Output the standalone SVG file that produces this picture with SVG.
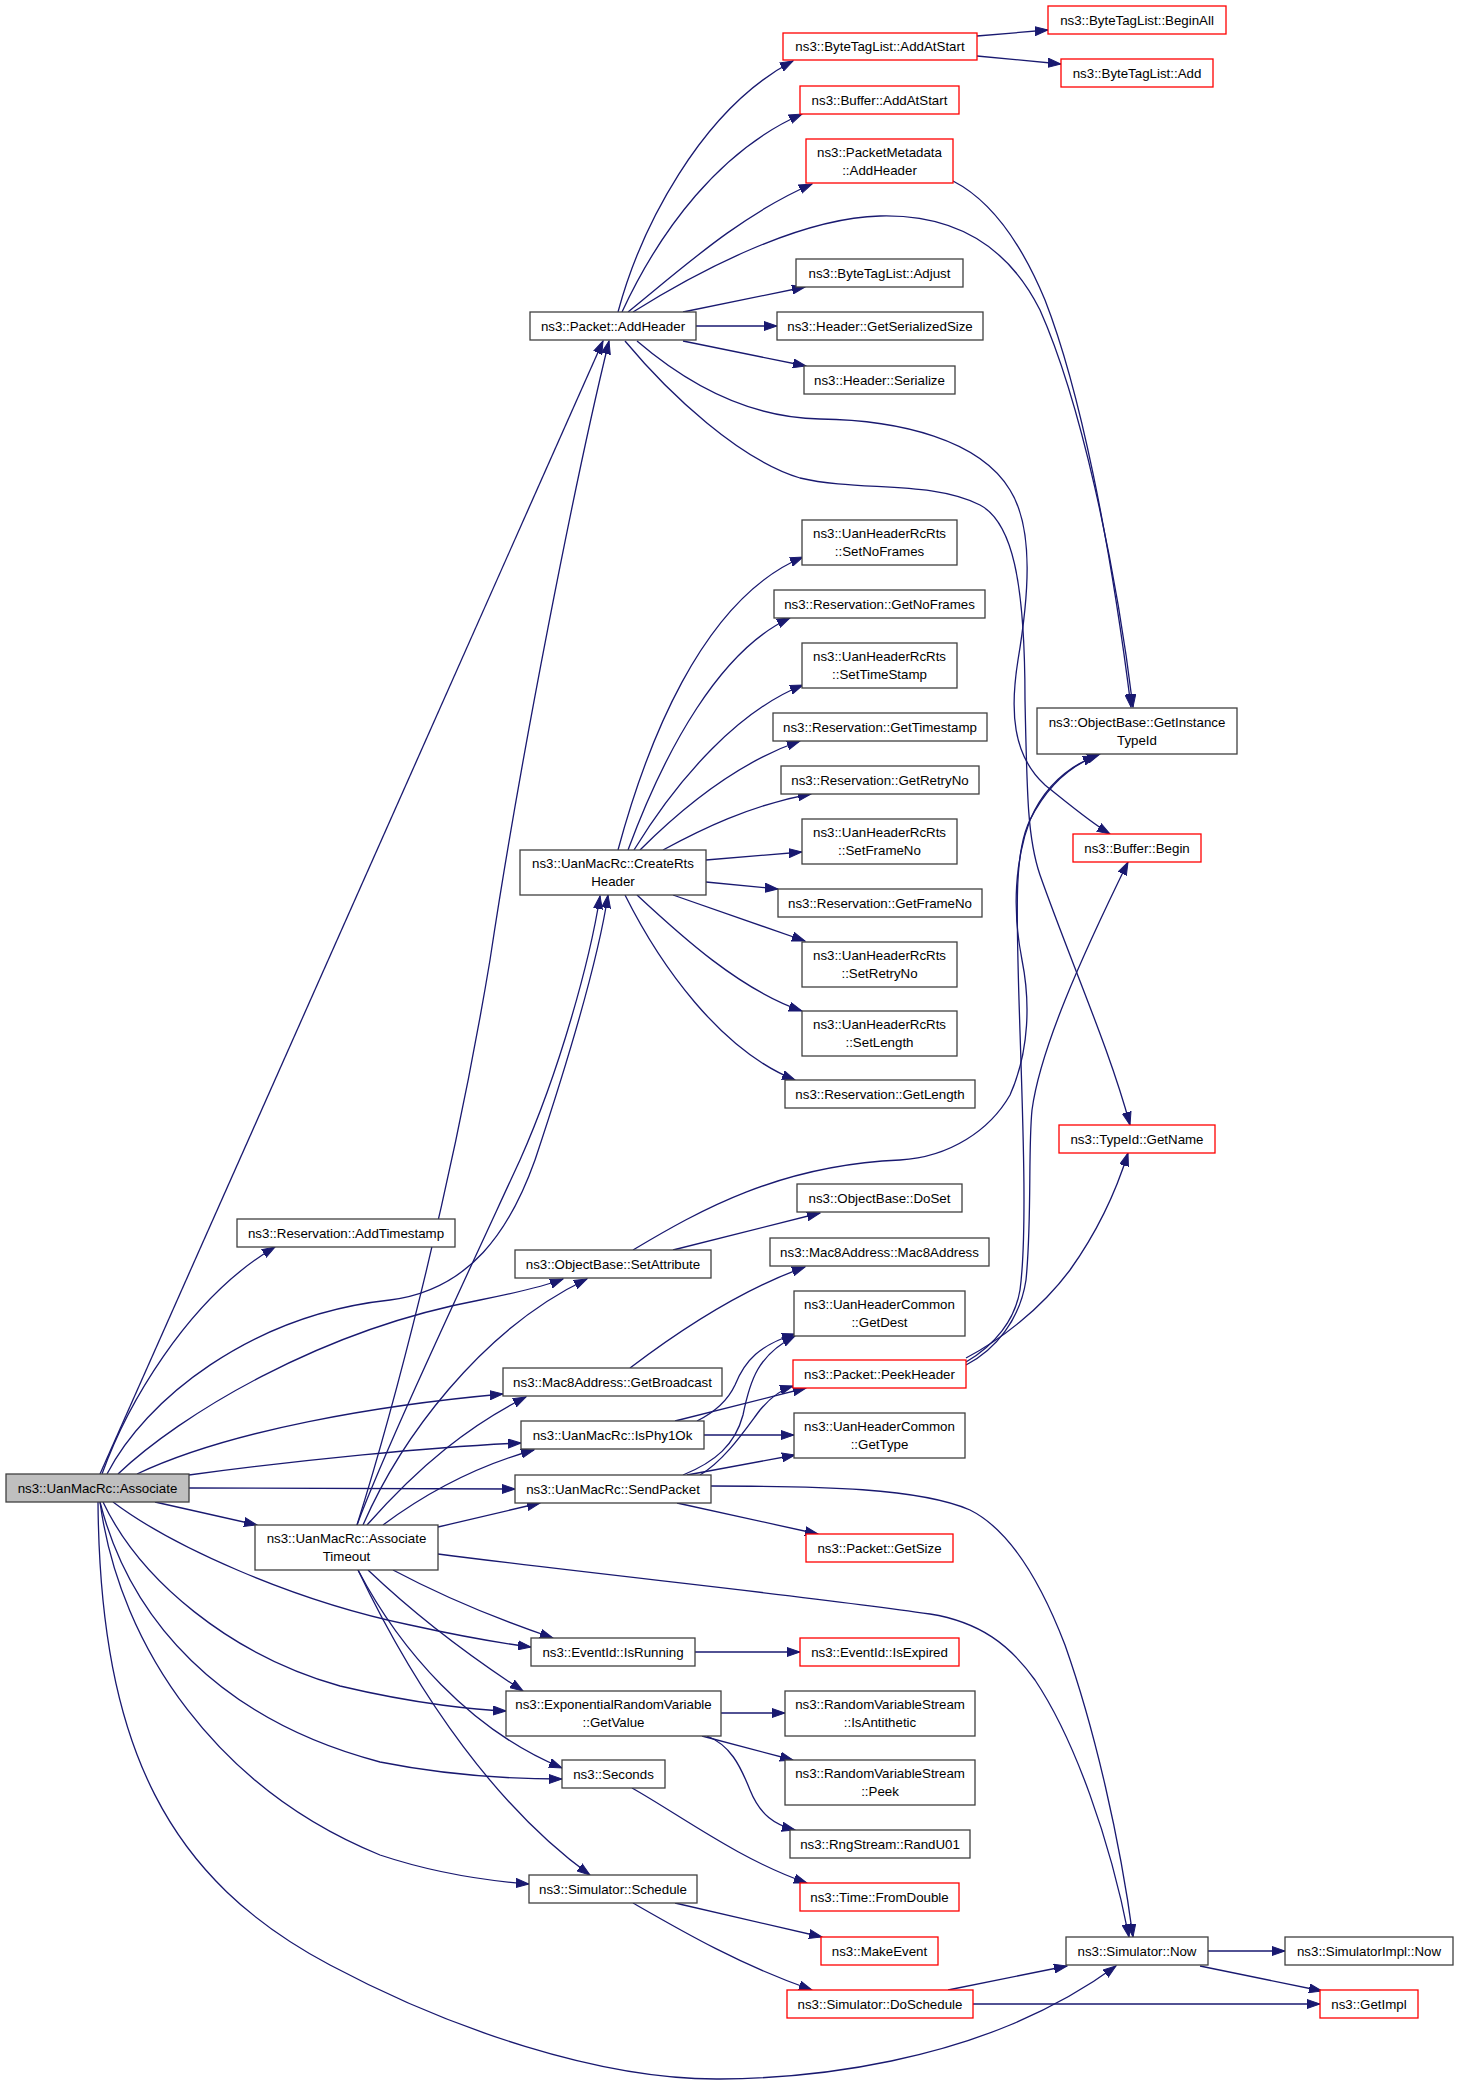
<svg xmlns="http://www.w3.org/2000/svg" width="1459" height="2085" viewBox="0 0 1459 2085">
<defs>
<marker id="ah" markerWidth="14" markerHeight="10" refX="13" refY="5" orient="auto" markerUnits="userSpaceOnUse">
<path d="M0,0.5 L13,5 L0,9.5 z" fill="#191970" stroke="#191970" stroke-width="1"/>
</marker>
</defs>
<style>
.n rect{fill:#ffffff;stroke:#404040;stroke-width:1.3}
.n.r rect{stroke:#ff0000}
.n.g rect{fill:#bfbfbf}
.n text{font-family:"Liberation Sans",Arial,Helvetica,sans-serif;font-size:13.3px;text-anchor:middle;fill:#000000}
#edges path{fill:none;stroke:#191970;stroke-width:1.3;marker-end:url(#ah)}
</style>
<rect x="0" y="0" width="1459" height="2085" fill="#ffffff"/>
<g id="edges">
<path d="M977,36 L1048,30"/>
<path d="M977,56 L1061,64"/>
<path d="M618,312 C640,230 700,110 793,61"/>
<path d="M622,312 C660,230 720,150 802,114"/>
<path d="M628,312 C680,270 740,215 812,184"/>
<path d="M633,312 C700,270 800,218 880,216 C960,214 1010,250 1040,310 C1080,400 1115,560 1133,707"/>
<path d="M953,181 C990,200 1020,240 1045,300 C1080,390 1110,540 1131,707"/>
<path d="M683,312 L805,287"/>
<path d="M696,326 L777,326"/>
<path d="M683,341 L806,366"/>
<path d="M637,341 C700,395 760,418 820,419 C900,420 980,440 1010,490 C1035,530 1028,600 1018,660 C1010,710 1012,755 1045,785 C1070,805 1090,822 1110,834"/>
<path d="M625,341 C670,395 740,460 800,478 C860,492 930,480 980,505 C1012,522 1025,580 1025,700 C1027,800 1028,840 1040,875 C1070,960 1110,1050 1130,1125"/>
<path d="M618,850 C645,750 700,600 803,557"/>
<path d="M628,850 C665,750 720,650 790,618"/>
<path d="M634,850 C680,775 740,710 803,685"/>
<path d="M640,850 C690,800 745,760 800,741"/>
<path d="M663,850 C700,830 750,805 811,794"/>
<path d="M706,860 L802,852"/>
<path d="M706,882 L778,889"/>
<path d="M673,895 L805,941"/>
<path d="M637,895 C680,935 740,990 802,1011"/>
<path d="M625,895 C660,965 720,1050 795,1080"/>
<path d="M673,1250 L820,1213"/>
<path d="M633,1250 C700,1210 780,1165 900,1160 C950,1157 990,1130 1010,1095 C1030,1050 1030,1000 1022,960 C1012,910 1015,860 1030,820 C1045,785 1070,765 1100,754"/>
<path d="M966,1362 C995,1345 1015,1320 1020,1290 C1028,1230 1022,1100 1019,1000 C1016,900 1015,850 1030,820 C1045,790 1065,768 1096,756"/>
<path d="M966,1365 C995,1350 1020,1320 1026,1280 C1032,1220 1028,1150 1032,1110 C1040,1050 1080,960 1128,862"/>
<path d="M966,1358 C1000,1340 1040,1310 1070,1270 C1095,1235 1115,1195 1128,1153"/>
<path d="M630,1368 C680,1330 740,1290 805,1267"/>
<path d="M697,1421 C715,1412 728,1400 735,1385 C745,1360 760,1345 795,1334"/>
<path d="M683,1475 C715,1462 735,1445 743,1415 C750,1380 758,1355 795,1336"/>
<path d="M675,1421 L806,1388"/>
<path d="M700,1475 C725,1460 745,1430 760,1410 C770,1398 780,1390 793,1386"/>
<path d="M704,1435 L794,1435"/>
<path d="M687,1475 L795,1455"/>
<path d="M677,1503 L818,1534"/>
<path d="M711,1486 C820,1486 920,1488 970,1510 C1010,1530 1040,1580 1065,1645 C1095,1730 1120,1840 1133,1937"/>
<path d="M438,1554 C600,1575 800,1595 930,1614 C980,1622 1010,1645 1035,1680 C1075,1740 1110,1840 1129,1937"/>
<path d="M98,1502 C100,1750 170,1880 330,1965 C450,2029 600,2080 720,2079 C850,2078 950,2050 1010,2025 C1058,2005 1090,1985 1116,1966"/>
<path d="M948,1990 L1067,1966"/>
<path d="M973,2004 L1320,2004"/>
<path d="M1208,1951 L1285,1951"/>
<path d="M1200,1966 L1322,1991"/>
<path d="M675,1903 L822,1937"/>
<path d="M633,1903 C680,1930 740,1965 812,1990"/>
<path d="M632,1788 C680,1815 740,1860 807,1883"/>
<path d="M721,1713 L785,1713"/>
<path d="M702,1736 L793,1760"/>
<path d="M707,1736 C730,1745 740,1765 750,1790 C760,1815 775,1825 795,1830"/>
<path d="M695,1652 L800,1652"/>
<path d="M100,1474 L603,341"/>
<path d="M102,1474 C125,1410 185,1300 275,1247"/>
<path d="M107,1474 C145,1400 250,1315 390,1300 C470,1290 510,1230 535,1160 C565,1070 598,960 608,895"/>
<path d="M118,1474 C180,1415 320,1330 480,1300 C520,1292 545,1286 563,1279"/>
<path d="M137,1474 C230,1430 380,1405 503,1394"/>
<path d="M189,1475 C300,1460 430,1447 521,1443"/>
<path d="M189,1488 L515,1489"/>
<path d="M155,1502 L257,1525"/>
<path d="M113,1502 C170,1545 290,1600 410,1625 C460,1636 500,1643 531,1647"/>
<path d="M103,1502 C140,1580 230,1655 340,1686 C420,1705 480,1710 506,1711"/>
<path d="M100,1502 C130,1620 220,1720 380,1762 C450,1776 520,1779 562,1779"/>
<path d="M100,1502 C120,1650 220,1790 380,1855 C440,1875 490,1881 529,1884"/>
<path d="M357,1525 C390,1420 450,1200 490,960 C520,760 575,480 609,341"/>
<path d="M357,1525 C385,1450 460,1290 520,1160 C560,1070 590,960 600,896"/>
<path d="M363,1525 C400,1440 480,1330 587,1279"/>
<path d="M367,1525 C420,1465 470,1425 526,1397"/>
<path d="M383,1525 C430,1490 480,1465 534,1450"/>
<path d="M438,1527 L540,1503"/>
<path d="M393,1570 C440,1595 500,1620 553,1638"/>
<path d="M368,1570 C410,1610 460,1650 523,1691"/>
<path d="M358,1570 C400,1650 470,1730 562,1768"/>
<path d="M358,1570 C420,1700 500,1810 590,1875"/>
</g>
<g id="n_assoc" class="n g"><rect x="6" y="1474" width="183" height="28"/><text x="97.5" y="1492.6">ns3::UanMacRc::Associate</text></g>
<g id="n_addhdr" class="n"><rect x="530" y="312" width="166" height="28"/><text x="613" y="330.6">ns3::Packet::AddHeader</text></g>
<g id="n_btl_aas" class="n r"><rect x="783" y="33" width="194" height="27"/><text x="880" y="51.1">ns3::ByteTagList::AddAtStart</text></g>
<g id="n_btl_ba" class="n r"><rect x="1048" y="6" width="178" height="28"/><text x="1137" y="24.6">ns3::ByteTagList::BeginAll</text></g>
<g id="n_btl_add" class="n r"><rect x="1061" y="59" width="152" height="28"/><text x="1137" y="77.6">ns3::ByteTagList::Add</text></g>
<g id="n_buf_aas" class="n r"><rect x="800" y="86" width="159" height="28"/><text x="879.5" y="104.6">ns3::Buffer::AddAtStart</text></g>
<g id="n_pm_ah" class="n r"><rect x="806" y="139" width="147" height="44"/><text x="879.5" y="156.6">ns3::PacketMetadata</text><text x="879.5" y="174.6">::AddHeader</text></g>
<g id="n_btl_adj" class="n"><rect x="796" y="259" width="167" height="28"/><text x="879.5" y="277.6">ns3::ByteTagList::Adjust</text></g>
<g id="n_hdr_gss" class="n"><rect x="777" y="312" width="206" height="28"/><text x="880" y="330.6">ns3::Header::GetSerializedSize</text></g>
<g id="n_hdr_ser" class="n"><rect x="804" y="366" width="151" height="28"/><text x="879.5" y="384.6">ns3::Header::Serialize</text></g>
<g id="n_snf" class="n"><rect x="802" y="520" width="155" height="45"/><text x="879.5" y="538.1">ns3::UanHeaderRcRts</text><text x="879.5" y="556.1">::SetNoFrames</text></g>
<g id="n_gnf" class="n"><rect x="774" y="590" width="211" height="28"/><text x="879.5" y="608.6">ns3::Reservation::GetNoFrames</text></g>
<g id="n_sts" class="n"><rect x="802" y="643" width="155" height="45"/><text x="879.5" y="661.1">ns3::UanHeaderRcRts</text><text x="879.5" y="679.1">::SetTimeStamp</text></g>
<g id="n_gts" class="n"><rect x="773" y="713" width="214" height="28"/><text x="880" y="731.6">ns3::Reservation::GetTimestamp</text></g>
<g id="n_grn" class="n"><rect x="781" y="766" width="198" height="28"/><text x="880" y="784.6">ns3::Reservation::GetRetryNo</text></g>
<g id="n_sfn" class="n"><rect x="802" y="819" width="155" height="45"/><text x="879.5" y="837.1">ns3::UanHeaderRcRts</text><text x="879.5" y="855.1">::SetFrameNo</text></g>
<g id="n_gfn" class="n"><rect x="778" y="889" width="204" height="28"/><text x="880" y="907.6">ns3::Reservation::GetFrameNo</text></g>
<g id="n_srn" class="n"><rect x="802" y="942" width="155" height="45"/><text x="879.5" y="960.1">ns3::UanHeaderRcRts</text><text x="879.5" y="978.1">::SetRetryNo</text></g>
<g id="n_sl" class="n"><rect x="802" y="1011" width="155" height="45"/><text x="879.5" y="1029.1">ns3::UanHeaderRcRts</text><text x="879.5" y="1047.1">::SetLength</text></g>
<g id="n_gl" class="n"><rect x="785" y="1080" width="190" height="28"/><text x="880" y="1098.6">ns3::Reservation::GetLength</text></g>
<g id="n_crts" class="n"><rect x="520" y="850" width="186" height="45"/><text x="613" y="868.1">ns3::UanMacRc::CreateRts</text><text x="613" y="886.1">Header</text></g>
<g id="n_git" class="n"><rect x="1037" y="708" width="200" height="46"/><text x="1137" y="726.6">ns3::ObjectBase::GetInstance</text><text x="1137" y="744.6">TypeId</text></g>
<g id="n_bbeg" class="n r"><rect x="1073" y="834" width="128" height="28"/><text x="1137" y="852.6">ns3::Buffer::Begin</text></g>
<g id="n_tgn" class="n r"><rect x="1059" y="1125" width="156" height="28"/><text x="1137" y="1143.6">ns3::TypeId::GetName</text></g>
<g id="n_addts" class="n"><rect x="237" y="1219" width="218" height="28"/><text x="346" y="1237.6">ns3::Reservation::AddTimestamp</text></g>
<g id="n_doset" class="n"><rect x="797" y="1184" width="165" height="28"/><text x="879.5" y="1202.6">ns3::ObjectBase::DoSet</text></g>
<g id="n_setattr" class="n"><rect x="515" y="1250" width="196" height="28"/><text x="613" y="1268.6">ns3::ObjectBase::SetAttribute</text></g>
<g id="n_mac8" class="n"><rect x="770" y="1238" width="219" height="28"/><text x="879.5" y="1256.6">ns3::Mac8Address::Mac8Address</text></g>
<g id="n_gdest" class="n"><rect x="794" y="1291" width="171" height="45"/><text x="879.5" y="1309.1">ns3::UanHeaderCommon</text><text x="879.5" y="1327.1">::GetDest</text></g>
<g id="n_gbc" class="n"><rect x="503" y="1368" width="219" height="28"/><text x="612.5" y="1386.6">ns3::Mac8Address::GetBroadcast</text></g>
<g id="n_peek" class="n r"><rect x="793" y="1360" width="173" height="28"/><text x="879.5" y="1378.6">ns3::Packet::PeekHeader</text></g>
<g id="n_isphy" class="n"><rect x="521" y="1421" width="183" height="28"/><text x="612.5" y="1439.6">ns3::UanMacRc::IsPhy1Ok</text></g>
<g id="n_gtype" class="n"><rect x="794" y="1413" width="171" height="45"/><text x="879.5" y="1431.1">ns3::UanHeaderCommon</text><text x="879.5" y="1449.1">::GetType</text></g>
<g id="n_sendp" class="n"><rect x="515" y="1475" width="196" height="28"/><text x="613" y="1493.6">ns3::UanMacRc::SendPacket</text></g>
<g id="n_gsize" class="n r"><rect x="806" y="1534" width="147" height="28"/><text x="879.5" y="1552.6">ns3::Packet::GetSize</text></g>
<g id="n_timeout" class="n"><rect x="255" y="1525" width="183" height="45"/><text x="346.5" y="1543.1">ns3::UanMacRc::Associate</text><text x="346.5" y="1561.1">Timeout</text></g>
<g id="n_isrun" class="n"><rect x="531" y="1638" width="164" height="28"/><text x="613" y="1656.6">ns3::EventId::IsRunning</text></g>
<g id="n_isexp" class="n r"><rect x="800" y="1638" width="159" height="28"/><text x="879.5" y="1656.6">ns3::EventId::IsExpired</text></g>
<g id="n_getval" class="n"><rect x="506" y="1691" width="215" height="45"/><text x="613.5" y="1709.1">ns3::ExponentialRandomVariable</text><text x="613.5" y="1727.1">::GetValue</text></g>
<g id="n_anti" class="n"><rect x="785" y="1691" width="190" height="45"/><text x="880" y="1709.1">ns3::RandomVariableStream</text><text x="880" y="1727.1">::IsAntithetic</text></g>
<g id="n_secs" class="n"><rect x="562" y="1760" width="103" height="28"/><text x="613.5" y="1778.6">ns3::Seconds</text></g>
<g id="n_peek2" class="n"><rect x="785" y="1760" width="190" height="45"/><text x="880" y="1778.1">ns3::RandomVariableStream</text><text x="880" y="1796.1">::Peek</text></g>
<g id="n_randu" class="n"><rect x="790" y="1830" width="180" height="28"/><text x="880" y="1848.6">ns3::RngStream::RandU01</text></g>
<g id="n_fromd" class="n r"><rect x="800" y="1883" width="159" height="28"/><text x="879.5" y="1901.6">ns3::Time::FromDouble</text></g>
<g id="n_sched" class="n"><rect x="529" y="1875" width="168" height="28"/><text x="613" y="1893.6">ns3::Simulator::Schedule</text></g>
<g id="n_mkev" class="n r"><rect x="821" y="1937" width="117" height="28"/><text x="879.5" y="1955.6">ns3::MakeEvent</text></g>
<g id="n_dosch" class="n r"><rect x="787" y="1990" width="186" height="28"/><text x="880" y="2008.6">ns3::Simulator::DoSchedule</text></g>
<g id="n_now" class="n"><rect x="1066" y="1937" width="142" height="28"/><text x="1137" y="1955.6">ns3::Simulator::Now</text></g>
<g id="n_implnow" class="n"><rect x="1285" y="1937" width="168" height="28"/><text x="1369" y="1955.6">ns3::SimulatorImpl::Now</text></g>
<g id="n_getimpl" class="n r"><rect x="1320" y="1990" width="98" height="28"/><text x="1369" y="2008.6">ns3::GetImpl</text></g>
</svg>
